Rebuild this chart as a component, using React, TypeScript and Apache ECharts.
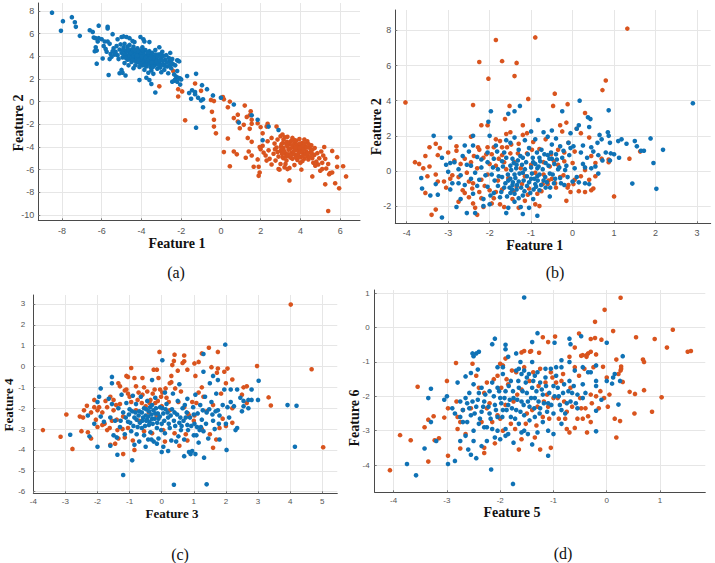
import React, { useEffect, useRef } from "react";
import * as echarts from "echarts";

const BLUE = "#0f72b5";
const ORANGE = "#d9541e";

const aBlue = [[-8.5,7.85],[-7.95,7.1],[-8.05,6.25],[-7.5,7.45],[-7.35,7],[-7.3,6.6],[-7.1,5.8],[-6.6,6.3],[-6.45,6.15],[-6.15,6.7],[-5.7,6.6],[-5.7,6.45],[-6.4,5.65],[-6.3,5.6],[-6.15,5.6],[-6.2,5.3],[-6,5.5],[-5.85,5.3],[-5.7,5.3],[-5.6,5.1],[-5.45,5.95],[-5.2,5.5],[-5,5.7],[-4.9,5.75],[-4.75,5.7],[-4.6,5.6],[-4.45,5.35],[-4.35,5.25],[-4.05,5.7],[-3.9,5.5],[-3.85,5.3],[-3.6,5.25],[-6.35,4.45],[-6.3,4.8],[-6.25,4.5],[-5.9,4.9],[-5.8,4.65],[-5.75,4.4],[-5.55,4.2],[-5.6,3.75],[-5.95,3.8],[-6.25,3.35],[-5.65,2.35],[-5.1,2.5],[-5,2.8],[-4.95,2.55],[-4.8,2.3],[-4.1,1.9],[-3.75,2.1],[-3.6,1.9],[-3.5,1.55],[-3.3,0.8],
[-5.4,4.7],[-5.3,4.4],[-5.25,4.9],[-5.2,4.1],[-5.15,3.75],[-5.1,4.6],[-5.05,5.05],[-5,4.3],[-4.95,3.9],[-4.9,4.8],[-4.85,3.4],[-4.85,5.1],[-4.8,4.5],[-4.75,4.1],[-4.7,3.7],[-4.7,4.85],[-4.65,3.2],[-4.6,4.35],[-4.6,5],[-4.55,3.95],[-4.5,4.6],[-4.5,3.5],[-4.45,4.2],[-4.4,2.95],[-4.4,4.85],[-4.35,3.75],[-4.3,4.4],[-4.3,3.2],[-4.25,4],[-4.2,4.7],[-4.2,3.5],[-4.15,4.25],[-4.1,3.8],[-4.1,3.05],[-4.05,4.5],[-4,3.55],[-4,4.1],[-3.95,3.2],[-3.95,4.8],[-3.9,3.85],[-3.9,4.35],[-3.85,2.8],[-3.85,3.45],[-3.8,4.05],[-3.8,4.55],[-3.75,3.7],[-3.75,3.1],[-3.7,4.2],[-3.7,3.4],[-3.65,3.9],[-3.65,2.55],[-3.6,4.45],[-3.6,3.55],[-3.55,3.05],[-3.55,4.05],[-3.5,3.75],[-3.5,2.75],[-3.45,3.3],[-3.45,4.3],[-3.4,3.6],[-3.4,2.45],[-3.35,4],[-3.3,3.25],[-3.3,4.55],[-3.25,3.7],[-3.2,2.9],[-3.15,4.15],[-3.1,3.45],[-3.1,4.8],[-3.05,3],[-3,3.85],[-3,2.6],[-2.95,4.4],[-2.9,3.3],[-2.85,2.8],[-2.8,3.7],[-2.75,4.1],[-2.7,3.1],[-2.65,2.5],[-2.6,3.55],[-2.55,4.3],[-2.5,2.95],[-2.45,3.75],[-2.4,3.3],[-2.35,2.4],[-2.3,3.2],[-2.2,2.7],[-2.2,3.65],[-2.15,3.6],[-2.1,3.55],[-2.3,1.95],[-2.25,2.2],[-2.45,1.75],[-2.35,1.85],[-2.2,1.75],[-2.15,2.1],[-2.05,2.05],[-2,1.95],[-2.05,1.5],[-1.7,2.25],[-1.25,2.45],[-1.6,0.75],[-1.45,1],[-1.5,0.25],[-1.3,0.85],[-1.3,0.65],[-1.15,0.35],[-1,0.1],[-0.95,1.45],[-0.9,0.2],[-0.7,1.1],[-0.9,-0.5],[-0.4,0.55],[0,0.35],[0.65,-0.25],[1.55,-1.2],[0.9,-1.85],[1.85,-1.6],[2.4,-2.2],[2.9,-2.5],[2.1,-3.4],[-1.25,-2.3],
[-4.92,4.55],[-4.88,4.05],[-4.82,4.25],[-4.78,3.85],[-4.72,4.45],[-4.68,4.6],[-4.62,3.75],[-4.58,4.1],[-4.52,4.3],[-4.48,3.85],[-4.42,4.5],[-4.38,4.05],[-4.32,3.6],[-4.28,4.2],[-4.22,3.85],[-4.18,4.45],[-4.12,3.45],[-4.08,4.05],[-4.02,3.75],[-3.98,4.25],[-3.92,3.55],[-3.88,4.05],[-3.82,3.7],[-3.78,3.3],[-3.72,3.95],[-3.68,3.6],[-3.62,4.15],[-3.58,3.3],[-3.52,3.5],[-3.48,4],[-3.42,3.85],[-3.38,3.15],[-3.32,3.45],[-3.28,4.15],[-3.22,3.5],[-3.18,3.95],[-3.12,3.2],[-3.08,3.65],[-3.02,4.2],[-2.98,3.25],[-2.92,3.6],[-2.88,4.05],[-2.82,3.15],[-2.72,3.45],[-2.62,3.85],[-2.58,3.2],[-2.48,3.4],[-4.15,3.65],[-4.05,3.35],[-4,3.95],[-3.95,4.55],[-3.85,3.2],[-3.78,3.85],[-3.68,4.35],[-3.62,3.72],[-3.55,3.85],[-3.48,3.45],[-3.42,3.05],[-4.22,4.05],[-4.35,4.55],[-4.45,3.65],[-5.35,4.15],[-5.45,4.45],[-5.5,3.95]];

const aOrange = [[-3.1,1.35],[-2.4,2.7],[-2.15,1.1],[-2.15,0.45],[-1.95,0.9],[-1.3,1.6],[-1,0.95],[-1.8,-1.65],[-0.5,0.15],[-0.35,0.05],[-0.45,-0.9],[-0.35,-1.6],[-0.35,-2.2],[-0.25,-2.8],[0.1,0.4],[0.15,0.2],[0.45,0],[0.35,-0.5],[0.65,-1.45],[0.85,-1.15],[0.85,-1.75],[0.95,-2.35],[1.2,-0.35],[1.3,-1.35],[1.45,-1.2],[1.5,-0.85],[1.55,-1.6],[1.55,-1.95],[1.15,-2.05],[1.45,-2.4],[1.85,-1.9],[2,-2.25],[2.3,-2.2],[2.35,-1.95],[2.8,-2.2],[0.35,-3.25],[0.15,-4.45],[0.65,-4.4],[0.8,-4.65],[0.45,-5.7],[1.35,-3.2],[1.55,-3.55],[1.4,-4.4],[1.55,-4.75],[1.25,-4.95],[1.65,-5.75],[1.9,-5.75],[1.95,-6.25],[1.9,-6.55],[1.85,-5.1],[1.95,-4],[2.1,-2.8],[5.4,-9.65],[5.95,-7.65],[5.75,-7.2],[5.25,-7.3],[4.6,-6.6],[3.45,-6.95],[6.3,-6.6],[6.15,-5.7],[5.85,-5.75],[5.85,-4.9],[5.2,-4],[5.6,-4.35],[5.5,-6.3],[5.6,-6.25],[5.45,-6.4],[5.1,-5.95],[5,-6.1],
[2,-4.2],[2.1,-3.9],[2.15,-4.5],[2.25,-4.75],[2.3,-5.2],[2.35,-3.5],[2.4,-4.3],[2.45,-5.05],[2.55,-3.2],[2.55,-5.55],[2.65,-4.6],[2.7,-3.7],[2.75,-5.2],[2.8,-4.05],[2.85,-3.35],[2.9,-4.85],[2.9,-5.95],[3,-3.05],[3,-4.35],[3,-5.5],[3.05,-3.75],[3.1,-2.9],[3.1,-4.9],[3.15,-4.1],[3.15,-3.35],[3.2,-5.8],[3.25,-4.55],[3.3,-3.8],[3.3,-5.2],[3.35,-3.1],[3.4,-4.25],[3.45,-4.85],[3.45,-5.85],[3.5,-3.55],[3.55,-4.5],[3.6,-3.2],[3.6,-5.05],[3.65,-4.05],[3.7,-5.6],[3.7,-3.7],[3.75,-4.7],[3.8,-4.25],[3.8,-3.45],[3.85,-5.15],[3.9,-3.95],[3.9,-4.55],[3.95,-3.3],[4,-4.9],[4,-5.4],[4.05,-4.2],[4.05,-6],[4.1,-3.65],[4.15,-4.55],[4.2,-3.35],[4.2,-5.05],[4.25,-3.95],[4.3,-4.4],[4.35,-3.5],[4.35,-4.85],[4.4,-5.1],[4.45,-4.05],[4.5,-4.5],[4.55,-3.85],[4.6,-5],[4.6,-4.25],[4.65,-5.4],[4.7,-4.7],[4.8,-5.3],[4.85,-4.55],[4.9,-5.55],[4.95,-5],[5.05,-4.4],[5.1,-5.4],[5.15,-4.75],[5.25,-5.05],[5.3,-5.9],[5.4,-5.5],[3.35,-5.95],[2.95,-6],
[3.02,-3.95],[3.08,-4.6],[3.12,-3.65],[3.18,-4.35],[3.22,-3.15],[3.28,-4.85],[3.32,-3.55],[3.38,-4.65],[3.42,-3.75],[3.48,-4.15],[3.52,-4.95],[3.58,-3.85],[3.62,-4.65],[3.68,-4.35],[3.72,-3.4],[3.78,-4.95],[3.82,-3.8],[3.88,-4.3],[3.92,-4.85],[3.98,-3.7],[4.02,-4.45],[4.08,-3.95],[4.12,-4.8],[4.18,-4.2],[4.22,-3.7],[4.28,-4.65],[4.32,-4.05],[4.38,-4.55],[4.42,-3.75],[4.48,-4.9],[4.52,-4.2],[4.58,-4.6],[3.55,-3.45],[3.35,-3.95],[3.95,-4.1],[3.75,-4.05],[3.5,-4.7],[4.1,-5.25],[3.25,-5.5],[2.85,-4.45],[2.72,-4.2],[4.75,-5.65],[4.72,-4.1],[3.05,-4.15],[3.15,-5]];

const bBlue = [[2.9,3.85],[2.18,1.2],[1.95,0.45],[2.02,-1.02],[1.44,-0.72],[1.88,1.85],[1.5,1.7],[1.55,1.4],[1.3,1.55],[1.18,1.8],[1.1,1.7],[1.12,0.75],[1.65,1.15],[1.72,1.15],[0.17,4],[0.87,3.45],[-1.27,3.7],[-1.4,3.4],[-1.55,3.25],[-1.97,3.4],[-2.03,2.8],[-0.83,2.9],[-0.25,3.4],[0.37,3.05],[0.43,2.95],[-3.35,2],[-2.95,1.9],[-3.65,-0.4],[-3.63,-1],[-3.43,-1.4],[-3.3,-0.75],[-3.25,-1.35],[-3.15,-2.65],[-3,-0.05],[-3.05,0.35],[-3.15,0.75],[-2.95,-1.05],[-2.85,0.5],[-2.75,0.1],[-2.75,-0.7],[-2.8,-2.05],[-2.7,-1.6],[-2.6,1.45],[-2.6,-0.8],[-2.55,-2.4],[-2.5,1.1],[-2.45,0.3],[-2.4,2],[-2.4,1.45],[-2.4,-1.3],[-2.35,-2.4],[-2.35,-0.1],[-2.3,0.8],[-2.25,-0.5],[-2.2,0.2],[-2.15,-1.6],[-2.15,-2],[-2.05,0.5],[-2.05,-0.9],[-2,2],[-2,-1.9],[-1.95,-0.2],[-1.9,0.7],[-1.9,-1.25],[-1.85,1.45],[-1.8,0.1],[-1.8,-0.85],[-1.75,-1.5],[-1.7,0.55],[-1.7,-0.35],[-1.65,1.05],[-1.6,-2.4],[-1.65,-0.95],[-1.6,1.75],[-1.55,-0.55],[-1.55,-2.1],[-1.5,0.3],[-1.5,-1.25],[-1.5,1.6],[-1.45,-0.8],[-1.45,0.7],[-1.4,-1.75],[-1.4,-0.2],[-1.4,1.9],[-1.35,-1.05],[-1.35,0.35],[-1.3,-0.6],[-1.3,1.2],[-1.25,-2.05],[-1.2,-0.1],[-1.2,-1.4],[-1.2,0.75],[-1.2,-2.45],[-1.15,1.75],[-1.15,0.1],[-1.1,-0.85],[-1.05,-2.1],[-1.05,1.3],[-1,2.25],[-1,-0.45],[-0.95,0.5],[-0.95,-1.6],[-0.9,-0.75],[-0.9,1.8],[-0.85,0.15],[-0.85,-0.3],[-0.85,-2.55],[-0.8,0.75],[-0.8,-1.1],[-0.75,1.2],[-0.7,2.2],[-0.7,-0.55],[-0.65,0.45],[-0.65,-0.95],[-0.6,1.95],[-0.6,0.9],[-0.55,-0.15],[-0.55,-1.45],[-0.5,1.5],[-0.5,0.7],[-0.5,2.3],[-0.45,-0.7],[-0.4,0.95],[-0.4,1.85],[-0.35,0.1],[-0.3,-0.4],[-0.3,1.4],[-0.25,0.75],[-0.2,-0.8],[-0.15,0.3],[-0.1,1.6],[-0.05,2.15],[0,-0.6],[-0.05,1.3],[0.05,0.15],[0.1,2.4],[0.15,2.6],[0.15,-0.65],[0.25,1.45],[0.25,0.4],[0.3,-0.7],[0.35,0.75],[0.4,2.5],[0.4,-0.75],[0.45,1.35],[0.45,0.15],[0.5,1.1],[0.55,0.25],[0.6,1.6],[0.62,0.9],[0.62,-0.15],[0.65,2.05],[0.7,1.8],[0.72,0.6],[0.8,1.05],[0.85,2.2],[0.87,2],[0.9,0.6],[0.9,1.6],[0.92,1],[1,0.95],
[-2.95,0.45],[-2.9,-0.7],[-2.7,-0.25],[-2.65,0.85],[-2.55,0.35],[-2.45,-0.45],[-2.3,-0.85],[-2.2,0.65],[-2.1,-0.25],[-2.05,1.05],[-1.98,-1.4],[-1.92,0.2],[-1.88,-0.55],[-1.82,1.1],[-1.78,-0.3],[-1.72,-1.2],[-1.68,0.25],[-1.62,-0.7],[-1.6,0.75],[-1.58,-1.45],[-1.56,-0.2],[-1.52,-0.95],[-1.5,-0.45],[-1.48,0.05],[-1.46,-1.05],[-1.44,-0.65],[-1.42,0.45],[-1.4,-1.3],[-1.38,-0.4],[-1.36,0.15],[-1.34,-0.8],[-1.32,0.6],[-1.3,-1.55],[-1.28,-0.15],[-1.26,0.85],[-1.24,-0.95],[-1.22,0.35],[-1.18,-0.55],[-1.16,-1.15],[-1.12,0.5],[-1.1,-0.3],[-1.08,0.95],[-1.05,-0.65],[-1.02,-1.25],[-1,0.2],[-0.98,-0.15],[-0.96,0.75],[-0.94,-1.05],[-0.92,-0.45],[-0.9,0.4],[-0.88,-0.9],[-0.86,1.05],[-0.84,-0.55],[-0.82,0.25],[-0.8,-0.2],[-0.78,0.55],[-0.76,-0.8],[-0.72,0.1],[-0.68,0.95],[-0.66,-0.35],[-0.62,-0.65],[-0.58,0.3],[-0.56,0.7],[-0.54,-0.95],[-0.52,1.05],[-0.48,-0.2],[-0.44,0.4],[-0.42,-0.45],[-0.38,0.65],[-0.32,0.2],[-0.28,-0.7],[-0.22,1.15],[-0.18,0.05],[-0.12,-0.35],[-0.08,0.9],[0.02,1.4],[0.1,-0.35],[0.2,1.05],[0.3,0.2]];

const bOrange = [[-4.03,3.9],[-1.85,7.45],[-0.9,7.6],[1.32,8.1],[-2.25,6.2],[-1.7,6.25],[-1.35,6.15],[-2.03,5.25],[-1.4,5.4],[0.8,5.15],[0.72,4.6],[-0.43,4.4],[-1.07,4.1],[-2.4,3.75],[-1.52,3.7],[-0.47,3.7],[-0.12,3.8],[0.3,3.3],[-1.63,2.95],[-2.2,2.6],[-2.05,2.6],[-1.2,2.6],[-0.3,2.6],[-0.15,2.75],[1,-1.45],[1.37,0.7],[1.63,1.1],[-3.8,0.5],[-3.7,0.4],[-3.6,0.15],[-3.45,0.25],[-3.55,0.85],[-3.45,1.35],[-3.5,-0.3],[-3.55,-1.25],[-3.3,-0.2],[-3.25,-0.6],[-3.4,-2.5],[-3.3,-2.2],[-3.2,-3],[-3.3,1.55],[-3.2,1.3],[-3.25,0.9],[-3,1.05],[-3.1,-0.6],[-3.05,-0.95],[-2.9,-0.25],[-2.85,0.6],[-2.8,1.15],[-2.8,1.4],[-2.75,-0.35],[-2.7,0.4],[-2.65,-1.1],[-2.6,0.7],[-2.75,-1.75],[-2.55,-0.1],[-2.5,-1.5],[-2.45,0.5],[-2.45,1.95],[-2.4,-1.85],[-2.4,-0.7],[-2.35,-2.1],[-2.3,-2.5],[-2.3,0.15],[-2.25,1.2],[-2.25,-1.2],[-2.2,-0.5],[-2.15,0.75],[-2.15,-2.05],[-2.05,1.35],[-2.05,-0.2],[-2,-1.1],[-1.95,0.95],[-1.9,-1.55],[-1.85,0.3],[-1.85,1.8],[-1.8,-0.55],[-1.75,1.7],[-1.75,-1.9],[-1.7,0.9],[-1.7,-1.05],[-1.65,-2.05],[-1.6,2.1],[-1.6,0.1],[-1.55,-0.4],[-1.5,1],[-1.5,2.2],[-1.45,-1.6],[-1.4,0.5],[-1.35,-0.9],[-1.3,1.55],[-1.3,-2.1],[-1.25,0.15],[-1.2,2.05],[-1.15,-0.3],[-1.15,-1.7],[-1.1,1],[-1.1,2.15],[-1.05,-1],[-1,0.35],[-0.95,1.65],[-0.9,-1.9],[-0.9,-0.1],[-0.85,-1.3],[-0.8,-2],[-0.8,1.25],[-0.75,-1.15],[-0.7,-0.2],[-0.7,0.5],[-0.65,1.8],[-0.6,-0.75],[-0.55,0.25],[-0.5,-0.45],[-0.45,0.55],[-0.4,-0.95],[-0.35,1.2],[-0.3,-0.35],[-0.25,2.25],[-0.2,0.55],[-0.15,-1.7],[-0.1,-0.8],[-0.1,1.6],[-0.05,-1.2],[0,0.45],[0.05,-0.5],[0.05,1.1],[0.1,2.4],[0.15,-1.15],[0.2,-0.3],[0.2,2.15],[0.3,0.05],[0.3,-1.2],[0.4,1.9],[0.4,-0.5],[0.45,0.85],[0.45,-1.1],[0.5,-1],[0.55,0.45],[0.55,-0.3],[0.7,0.7],[0.87,0.5],[0.87,0.65],
[-2.95,-0.45],[-2.6,-1.25],[-2.5,-0.6],[-2.42,-1],[-2.38,0.85],[-2.28,1.35],[-2.2,-1.55],[-2.12,-0.85],[-2.08,0.95],[-2,0.4],[-1.95,-1.85],[-1.9,1.35],[-1.85,-1.2],[-1.78,0.7],[-1.7,1.35],[-1.65,0.5],[-1.58,1.35],[-1.48,1.5],[-1.42,-1.15],[-1.32,1],[-1.22,-0.75],[-1.08,-1.35],[-0.98,1.2],[-0.72,-0.75],[-0.58,-0.55],[-0.52,0.95],[-0.42,-0.7],[-0.35,0.35],[-0.22,-0.25],[-0.2,1.05],[-0.12,-0.95],[0.02,-0.75]];

const cBlue = [[1.98,1.05],[1.3,0.6],[0.02,0.3],[1.3,-0.25],[1.6,-0.45],[1.75,-0.65],[-1.55,-0.5],[-1.55,-0.8],[-1.9,-1.05],[-0.3,-0.65],[0.55,-0.85],[3.02,-0.68],[2.8,-1.1],[2.35,-1.1],[2.15,-1.1],[3,-1.6],[2.8,-1.6],[2.7,-1.6],[2.55,-1.65],[2.7,-2],[3.92,-1.85],[4.2,-1.88],[4.15,-3.85],[2.02,-4],[0.38,-5.67],[1.4,-5.65],[-1.2,-5.2],[-2.85,-3.27],[-2.25,-3.35],[-2,-3.85],[-1.6,-3.8],[-1.38,-4.23],[-0.92,-4.5],[-0.85,-3.75],[-1.95,-1.45],[-2,-1.7],[-2.3,-2.35],[-2.1,-2.75],[-1.9,-2.4],[-1.8,-2.65],[-1.65,-1.55],[-1.6,-2.45],[-1.55,-1.8],[-1.5,-3.3],[-1.45,-2.6],[-1.4,-3.4],[-1.35,-2],[-1.3,-2.9],[-1.25,-1.35],[-1.2,-2.2],[-1.15,-3.25],[-1.1,-1.75],[-1.05,-2.65],[-1,-2.05],[-0.95,-3.1],[-0.9,-1.4],[-0.85,-2.45],[-0.8,-1.8],[-0.75,-2.9],[-0.7,-3.6],[-0.7,-2.15],[-0.65,-1.45],[-0.6,-2.6],[-0.55,-3.3],[-0.55,-2],[-0.5,-3.85],[-0.5,-2.35],[-0.45,-1.65],[-0.4,-2.8],[-0.4,-2.15],[-0.35,-3.15],[-0.3,-1.85],[-0.3,-2.5],[-0.25,-3.6],[-0.2,-2.25],[-0.2,-1.5],[-0.15,-2.95],[-0.1,-3.45],[-0.1,-2.5],[-0.05,-1.95],[0,-2.75],[0,-4.1],[0.05,-3.85],[0.05,-2.25],[0.1,-1.25],[0.1,-3.2],[0.15,-1.8],[0.2,-2.45],[0.2,-4.05],[0.25,-2.95],[0.3,-3.55],[0.35,-1.3],[0.4,-2.2],[0.45,-3.6],[0.5,-1.65],[0.55,-2.7],[0.6,-3.05],[0.65,-2],[0.7,-3.5],[0.7,-4.3],[0.75,-2.45],[0.8,-1.55],[0.8,-2.8],[0.85,-4.1],[0.9,-4.2],[0.95,-4.05],[1,-3.3],[1,-2.3],[1.05,-1.35],[1.05,-4.2],[1.1,-2.9],[1.15,-3.65],[1.2,-1.85],[1.25,-2.55],[1.3,-3.1],[1.32,-4.37],[1.35,-1.45],[1.4,-2.2],[1.45,-3.45],[1.5,-0.8],[1.55,-1.7],[1.6,-2.6],[1.65,-3],[1.7,-1.3],[1.75,-2.1],[1.8,-2.35],[1.8,-3.5],[1.9,-1.85],[1.95,-1.1],[2,-2.75],[2.05,-1.95],[2.1,-2.45],[2.15,-1.7],[2.25,-1.9],[2.3,-3.05],[2.35,-2.95],[2.45,-1.5],[2.5,-2.15],[2.55,-1.9],
[-1.28,-2.6],[-1.12,-2.45],[-1.02,-2.3],[-0.98,-2.7],[-0.92,-2.15],[-0.88,-2.85],[-0.82,-2.2],[-0.78,-2.55],[-0.72,-2.35],[-0.68,-2.7],[-0.62,-2.2],[-0.58,-2.45],[-0.52,-2.85],[-0.48,-2.05],[-0.46,-2.55],[-0.42,-2.4],[-0.38,-2.65],[-0.36,-1.95],[-0.32,-2.3],[-0.28,-2.75],[-0.26,-2.1],[-0.22,-2.5],[-0.18,-2],[-0.14,-2.7],[-0.12,-2.25],[-0.06,-2.4],[-0.02,-3.05],[0.02,-2],[0.08,-2.6],[0.12,-2.05],[0.18,-2.2],[0.22,-2.75],[0.28,-2.35],[0.32,-2.05],[0.38,-2.6],[0.42,-2.85],[0.48,-2.3],[0.52,-3.35],[0.58,-2.45],[0.62,-2.85],[0.68,-2.6],[0.72,-1.85],[0.78,-2.2],[0.82,-3.05],[0.88,-2.45],[0.92,-2.85],[0.98,-1.95],[1.02,-2.75],[1.08,-3.3],[1.12,-2.25],[1.18,-3.05],[1.22,-2.9],[1.28,-2.1],[1.38,-2.75],[1.48,-2.05],[1.58,-2.3],[1.68,-2.15],[1.78,-2.75],[-0.48,-2.6],[-0.62,-2.95],[-0.78,-3.25],[-0.32,-3.5],[-0.15,-3.7],[-0.42,-3.5]];

const cOrange = [[4.02,2.97],[4.67,-0.13],[5.03,-3.87],[2.97,0.02],[3.33,-1.48],[3.4,-1.87],[1.47,0.9],[1.75,0.7],[1.25,0.63],[-0.07,0.7],[0.4,0.57],[0.7,0.53],[0.38,0.27],[0.33,0.07],[0.7,0.25],[0.65,0.17],[1.02,0.15],[1.15,0.22],[0.8,-0.15],[-0.95,-0.07],[-0.25,-0.15],[-0.15,-0.15],[0.5,-0.2],[1.55,-0.03],[1.75,-0.1],[2.05,-0.1],[1.95,-0.25],[1.72,-0.3],[-1.1,-0.45],[-1.05,-0.5],[-0.85,-0.55],[-0.6,-0.55],[-1.35,-0.8],[-1.3,-0.95],[-0.8,-0.95],[-0.55,-1],[-0.1,-0.55],[0.3,-0.45],[1.05,-0.45],[2.2,-0.62],[0.25,-0.8],[-1.15,-1.15],[-1.05,-1.3],[1.25,-1],[2,-0.8],[2.55,-1],[2.65,-0.95],[2.5,-1.35],[-3.7,-3.05],[-3.15,-3.37],[-2.78,-3.95],[-2.97,-2.3],[-2.55,-2.4],[-2.5,-3.1],[-2.42,-2.1],[-2.45,-2.45],[-2.33,-1.88],[-2.3,-3.15],[-2.2,-3.45],[-2.2,-2.2],[-2.1,-1.6],[-2.1,-1.95],[-2,-2.9],[-2,-2.1],[-1.85,-2.8],[-1.75,-1.65],[-1.7,-3.05],[-1.6,-1.45],[-1.6,-3.75],[-1.5,-2.1],[-1.5,-1.6],[-1.45,-3.7],[-1.4,-2.55],[-1.35,-3.45],[-1.3,-1.8],[-1.2,-4.2],[-1.2,-2.4],[-1.15,-3.4],[-1.05,-2.95],[-1,-1.45],[-0.9,-3.55],[-0.85,-4],[-0.8,-2.1],[-0.75,-1.6],[-0.7,-2.6],[-0.6,-1.35],[-0.55,-3.1],[-0.5,-1.9],[-0.4,-2.2],[-0.35,-1.6],[-0.3,-3.2],[-0.2,-1.75],[-0.15,-2.35],[-0.05,-1.1],[0,-1.9],[0.05,-3.05],[0.1,-3.6],[0.15,-1.5],[0.25,-2.1],[0.3,-0.75],[0.4,-3.2],[0.55,-3.8],[0.6,-1.2],[0.7,-1.95],[0.75,-3.25],[0.8,-3.55],[0.85,-2.35],[0.95,-1.7],[1,-2.6],[1.15,-1.25],[1.25,-3],[1.3,-1.45],[1.4,-2.15],[1.5,-3.25],[1.6,-3.9],[1.6,-1.85],[1.7,-3.5],[1.8,-2.95],[1.85,-1.3],[1.9,-2.5],[2,-2.85],[2.2,-2],[2.2,-2.7],[2.65,-1.75],
[-2.05,-2.55],[-1.95,-1.95],[-1.85,-2.2],[-1.78,-2.75],[-1.7,-1.95],[-1.62,-2.95],[-1.55,-2.6],[-1.42,-1.85],[-1.38,-3.05],[-1.22,-3],[-1.1,-1.1],[-0.95,-1.7],[-0.72,-1.25],[-0.62,-1.75],[-0.45,-1.2],[-0.38,-1.75],[-0.28,-1.3],[-0.22,-1.1],[-0.12,-1.65],[-0.02,-1.45],[0.02,-1.25],[0.12,-1.05],[0.22,-1.7],[0.42,-1.05],[0.52,-1.7],[0.82,-2.25],[1.08,-1.75],[1.02,-2.35]];

const dBlue = [[-1.55,0.88],[-1.3,-0.16],[-1.4,-0.42],[-0.98,-0.44],[-0.7,-0.32],[-0.68,-0.48],[-0.48,-0.25],[0,-0.44],[0.3,-0.83],[-2.1,-0.32],[-2.15,-0.48],[-1.9,-0.5],[-1.9,-0.63],[-1.7,-0.75],[-2.4,-0.7],[-2.45,-0.75],[-2.5,-0.83],[-2.52,-0.75],[-1.85,-0.85],[-1.95,-1.15],[-2.05,-1.15],[-1.62,-1],[-1.4,-1],[-2.42,-1.22],[-2.55,-1.32],[-2.65,-1.42],[-0.85,-0.95],[-0.7,-1],[-0.2,-1.1],[0.15,-1.35],[0.12,-1.45],[-3.3,-1.78],[-3.35,-2.05],[-3,-2],[-3.05,-2.1],[-3.42,-3.52],[-3.75,-3.97],[-3.58,-4.3],[-2.98,-3.97],[-2.85,-3.88],[-2.17,-4.13],[-1.76,-4.55],[-1.1,-3.73],[-0.2,-3.02],[0.22,-2.24],[-3.3,-2.75],[-3.2,-3.3],[-2.9,-2.35],[-2.85,-2.5],[-2.8,-1.6],[-2.75,-3.3],[-2.7,-2.75],[-2.65,-3.15],[-2.65,-2.05],[-2.6,-3.55],[-2.55,-2.55],[-2.55,-3.7],[-2.5,-1.65],[-2.5,-3],[-2.5,-3.3],[-2.45,-2.3],[-2.45,-3.8],[-2.4,-2.8],[-2.4,-1.9],[-2.35,-2.45],[-2.35,-3.45],[-2.3,-2.15],[-2.25,-3.3],[-2.25,-2.9],[-2.2,-2.5],[-2.2,-1.85],[-2.15,-2.95],[-2.15,-1.6],[-2.1,-2.25],[-2.1,-3.2],[-2.05,-2.6],[-2.05,-1.75],[-2,-3.25],[-2,-2.05],[-1.95,-2.4],[-1.95,-1.35],[-1.9,-2.95],[-1.9,-1.85],[-1.85,-2.25],[-1.85,-3.1],[-1.8,-1.55],[-1.8,-2.6],[-1.75,-2.05],[-1.75,-3.35],[-1.7,-1.25],[-1.7,-2.4],[-1.65,-1.75],[-1.65,-2.8],[-1.6,-2.15],[-1.6,-1.35],[-1.55,-2.55],[-1.55,-3],[-1.5,-1.9],[-1.5,-1.45],[-1.45,-2.3],[-1.45,-2.7],[-1.4,-3.4],[-1.4,-1.75],[-1.35,-2.05],[-1.35,-2.6],[-1.3,-1.3],[-1.25,-2.35],[-1.25,-1.6],[-1.2,-1.95],[-1.2,-2.75],[-1.15,-1.45],[-1.1,-2.2],[-1.1,-3],[-1.05,-1.2],[-1,-1.7],[-1,-2.5],[-1,-3.1],[-0.95,-1.4],[-0.9,-2],[-0.85,-2.4],[-0.85,-1.15],[-0.85,-2.8],[-0.8,-1.65],[-0.75,-2.2],[-0.7,-1.55],[-0.65,-1.9],[-0.6,-1.25],[-0.55,-1.95],[-0.55,-2.35],[-0.45,-1.65],[-0.4,-1.9],[-0.35,-1.3],[-0.3,-1.3],[-0.2,-1.55],[-0.2,-2.42],[-0.2,-1.7],[-0.1,-2.1],[0,-1.55],[0.1,-1.63],[0.25,-1.55],
[-2.62,-2.2],[-2.58,-2.35],[-2.52,-2.15],[-2.48,-2.5],[-2.42,-2.1],[-2.38,-2.65],[-2.32,-2.3],[-2.28,-1.95],[-2.22,-2.3],[-2.18,-2.65],[-2.12,-2],[-2.08,-2.4],[-2.02,-1.85],[-1.98,-2.2],[-1.96,-2.6],[-1.92,-2.05],[-1.88,-2.4],[-1.84,-1.7],[-1.82,-2.1],[-1.78,-2.35],[-1.76,-1.85],[-1.72,-2.65],[-1.68,-2.1],[-1.66,-1.55],[-1.62,-2.45],[-1.58,-1.85],[-1.56,-2.25],[-1.52,-1.6],[-1.48,-2.15],[-1.46,-1.35],[-1.42,-2.05],[-1.38,-1.55],[-1.36,-2.35],[-1.32,-1.85],[-1.28,-2.15],[-1.26,-2.5],[-1.22,-1.8],[-1.18,-2.2],[-1.14,-1.7],[-1.12,-2.45],[-1.08,-1.9],[-1.04,-2.25],[-0.98,-2],[-0.92,-1.75],[-0.88,-2.25],[-0.82,-1.9],[-0.78,-2.5],[-0.72,-1.85],[-0.68,-2.15],[-0.62,-1.7],[-0.58,-2.2],[-2.7,-2.4],[-2.75,-2.15],[-2.75,-2.6],[-2.62,-2.75],[-2.58,-1.9],[-2.3,-2.9],[-2.35,-1.75],[-2.05,-3],[-1.9,-3.15],[-1.6,-3.05],[-1.48,-3.1],[-1.3,-3.05],[-1.65,-1.2],[-1.55,-1.25],[-1.35,-1.4],[-1.15,-1.2],[-0.95,-1.15],[-0.45,-1.15],[-0.45,-2.05]];

const dOrange = [[0.26,0.87],[-0.04,0.52],[-0.22,0.17],[1.24,-0.06],[0.55,-0.28],[0.12,-0.1],[0.9,-0.33],[1.13,-0.58],[1.52,-0.7],[1.58,-0.68],[-0.52,-0.17],[-0.3,-0.33],[-0.22,-0.3],[-0.1,-0.35],[-0.97,-0.26],[-1.2,-0.28],[-1.1,-0.42],[-0.6,-0.58],[-0.3,-0.7],[-0.35,-0.75],[-0.38,-0.8],[-0.45,-0.8],[-0.38,-0.85],[-0.48,-0.82],[-0.2,-0.78],[-0.7,-0.85],[0.68,-0.93],[0.7,-1],[0.18,-0.93],[0.27,-1.13],[0.27,-1.2],[0.26,-1.25],[0.22,-1.35],[0.3,-1.58],[-0.07,-1.14],[-1.44,-0.7],[-1.55,-0.68],[-1.6,-0.72],[-1.42,-0.68],[-1.27,-0.73],[-1.9,-0.9],[-2,-1.05],[-2.83,-1.03],[-2.52,-1.05],[-3,-1.55],[-3.55,-1.72],[-4.07,-4.15],[-3.88,-3.13],[-3.68,-3.28],[-3.42,-2.9],[-3.35,-2.68],[-3.35,-3.9],[-3.25,-2.58],[-3.23,-3.28],[-3.15,-3.22],[-3.05,-2.62],[-2.98,-2.35],[-2.98,-3.73],[-2.82,-2.15],[-2.8,-2.6],[-2.8,-2.95],[-2.75,-2.75],[-2.7,-2.4],[-2.65,-3.1],[-2.75,-3.52],[-2.55,-2.35],[-2.4,-1.75],[-2.35,-2.75],[-2.3,-1.9],[-2.3,-3.5],[-2.3,-3.65],[-2.2,-2.2],[-2.15,-2.75],[-2.1,-3.37],[-2.05,-2.55],[-2.05,-1.4],[-1.95,-1.1],[-1.95,-3],[-1.9,-2.25],[-1.85,-1.65],[-1.8,-2.8],[-1.75,-2.15],[-1.7,-1.3],[-1.65,-3.55],[-1.6,-3.25],[-1.6,-1.8],[-1.5,-2.5],[-1.45,-1.55],[-1.35,-3.2],[-1.3,-2.3],[-1.25,-1.2],[-1.25,-3.55],[-1.2,-2.6],[-1.15,-1.6],[-1.1,-2.3],[-1.05,-3.5],[-1.05,-1.3],[-1,-2.05],[-0.95,-1.6],[-0.9,-2.65],[-0.85,-1.55],[-0.8,-2.15],[-0.75,-2.45],[-0.75,-2.95],[-0.7,-3.05],[-0.6,-2.92],[-0.6,-1.15],[-0.55,-2.65],[-0.5,-2.05],[-0.45,-2.65],[-0.4,-2.35],[-0.37,-3.05],[-0.35,-2.58],[-0.3,-2.75],[-0.3,-1.95],[-0.2,-2],[-0.15,-2.35],[-0.05,-2.05],[0.05,-1.95],[0.15,-2.65],[0.18,-3.2],[0.25,-2.72],[0.43,-1.87],[0.52,-2.5],[0.53,-1.93],[0.7,-1.82],[0.85,-2.45],[1.03,-2.03],
[-2.45,-1.4],[-2.25,-1.6],[-2.25,-2.35],[-2.12,-1.5],[-2,-2.65],[-1.98,-1.75],[-1.88,-1.5],[-1.78,-1.25],[-1.72,-2.95],[-1.68,-1.95],[-1.55,-1.15],[-1.52,-2.8],[-1.4,-2.4],[-1.38,-1.3],[-1.32,-2.85],[-1.28,-1.7],[-1.18,-2.15],[-1.12,-1.95],[-1.08,-2.65],[-1.02,-1.45],[-0.92,-2.05],[-0.82,-1.35],[-0.78,-2.65],[-0.68,-1.75],[-0.65,-2.3],[-0.52,-1.4],[-0.48,-2.35],[-0.42,-1.2],[-0.28,-2.2],[-0.25,-1.15],[-0.12,-1.85],[0,-1.45],[0.02,-2.3]];

const xTicksA = [-8, -6, -4, -2, 0, 2, 4, 6];
const yTicksA = [8, 6, 4, 2, 0, -2, -4, -6, -8, -10];
const xTicksB = [-4, -3, -2, -1, 0, 1, 2, 3];
const yTicksB = [8, 6, 4, 2, 0, -2];
const xTicksC = [-4, -3, -2, -1, 0, 1, 2, 3, 4, 5];
const yTicksC = [3, 2, 1, 0, -1, -2, -3, -4, -5, -6];
const xTicksD = [-4, -3, -2, -1, 0, 1];
const yTicksD = [1, 0, -1, -2, -3, -4];

const panels = [
  { blue: aBlue, orange: aOrange, xt: xTicksA, yt: yTicksA, l: 38.3, r: 360, t: 3, b: 220.3, xr: [-9.19, 7], yr: [-10.47, 8.7], fs: 9, xm: 6, ym: 4 },
  { blue: bBlue, orange: bOrange, xt: xTicksB, yt: yTicksB, l: 395.3, r: 710.7, t: 10, b: 223.3, xr: [-4.275, 3.33], yr: [-2.98, 9.16], fs: 9, xm: 5, ym: 4 },
  { blue: cBlue, orange: cOrange, xt: xTicksC, yt: yTicksC, l: 33.3, r: 337.3, t: 295, b: 493.3, xr: [-4, 5.47], yr: [-6.08, 3.43], fs: 8, xm: 4, ym: 8 },
  { blue: dBlue, orange: dOrange, xt: xTicksD, yt: yTicksD, l: 374.7, r: 705.3, t: 290, b: 492.3, xr: [-4.356, 1.85], yr: [-4.795, 1.097], fs: 8, xm: 4, ym: 5 },
];

const axisTitles = [
  { s: "Feature 1", x: 177, y: 243, rot: false, fs: 14 },
  { s: "Feature 2", x: 18, y: 123, rot: true, fs: 14 },
  { s: "Feature 1", x: 534.7, y: 245, rot: false, fs: 14 },
  { s: "Feature 2", x: 376, y: 126.7, rot: true, fs: 14 },
  { s: "Feature 3", x: 172, y: 513, rot: false, fs: 13 },
  { s: "Feature 4", x: 8.5, y: 405, rot: true, fs: 13 },
  { s: "Feature 5", x: 512, y: 512.7, rot: false, fs: 14 },
  { s: "Feature 6", x: 354, y: 418, rot: true, fs: 14 },
];

const captions = [
  { s: "(a)", x: 176, y: 272 },
  { s: "(b)", x: 555, y: 272.7 },
  { s: "(c)", x: 180, y: 554 },
  { s: "(d)", x: 563, y: 553 },
];

const SERIF = '"Liberation Serif", serif';

function buildOption() {
  const common = (p: any, ticks: number[], range: number[], margin: number) => ({
    type: "value",
    min: range[0],
    max: range[1],
    axisLine: { onZero: false, show: true, lineStyle: { color: "#4a4a4a", width: 1 } },
    axisTick: { show: true, inside: true, length: 2, customValues: ticks, lineStyle: { color: "#777" } },
    axisLabel: {
      customValues: ticks,
      margin,
      fontSize: p.fs,
      color: "#555",
      fontFamily: '"Liberation Sans", sans-serif',
      formatter: (v: number) => String(v),
    },
    splitLine: { show: true, lineStyle: { color: "#e6e6e6", width: 1 } },
  });
  return {
    animation: false,
    backgroundColor: "#fff",
    grid: panels.map((p) => ({
      left: p.l,
      top: p.t,
      width: p.r - p.l,
      height: p.b - p.t,
      containLabel: false,
    })),
    xAxis: panels.map((p, i) => ({ ...common(p, p.xt, p.xr, p.xm), gridIndex: i })),
    yAxis: panels.map((p, i) => ({ ...common(p, p.yt, p.yr, p.ym), gridIndex: i })),
    series: panels.flatMap((p, i) => [
      {
        type: "scatter",
        xAxisIndex: i,
        yAxisIndex: i,
        data: p.orange,
        symbolSize: 4.6,
        itemStyle: { color: ORANGE, opacity: 1 },
      },
      {
        type: "scatter",
        xAxisIndex: i,
        yAxisIndex: i,
        data: p.blue,
        symbolSize: 4.6,
        itemStyle: { color: BLUE, opacity: 1 },
      },
    ]),
    graphic: [
      ...axisTitles.map((t) => ({
        type: "text",
        x: t.x,
        y: t.y,
        rotation: t.rot ? Math.PI / 2 : 0,
        style: {
          text: t.s,
          fontFamily: SERIF,
          fontWeight: "bold",
          fontSize: t.fs,
          fill: "#111",
          textAlign: "center",
          textVerticalAlign: "middle",
        },
      })),
      ...captions.map((t) => ({
        type: "text",
        x: t.x,
        y: t.y,
        style: {
          text: t.s,
          fontFamily: SERIF,
          fontSize: 16,
          fill: "#111",
          textAlign: "center",
          textVerticalAlign: "middle",
        },
      })),
    ],
  };
}

export default function App() {
  const ref = useRef<HTMLDivElement>(null);
  useEffect(() => {
    const chart = echarts.init(ref.current, undefined, { renderer: "svg" });
    chart.setOption(buildOption() as any);
    return () => chart.dispose();
  }, []);
  return <div ref={ref} style={{ position: "absolute", left: 0, top: 0, width: 715, height: 563 }} />;
}
